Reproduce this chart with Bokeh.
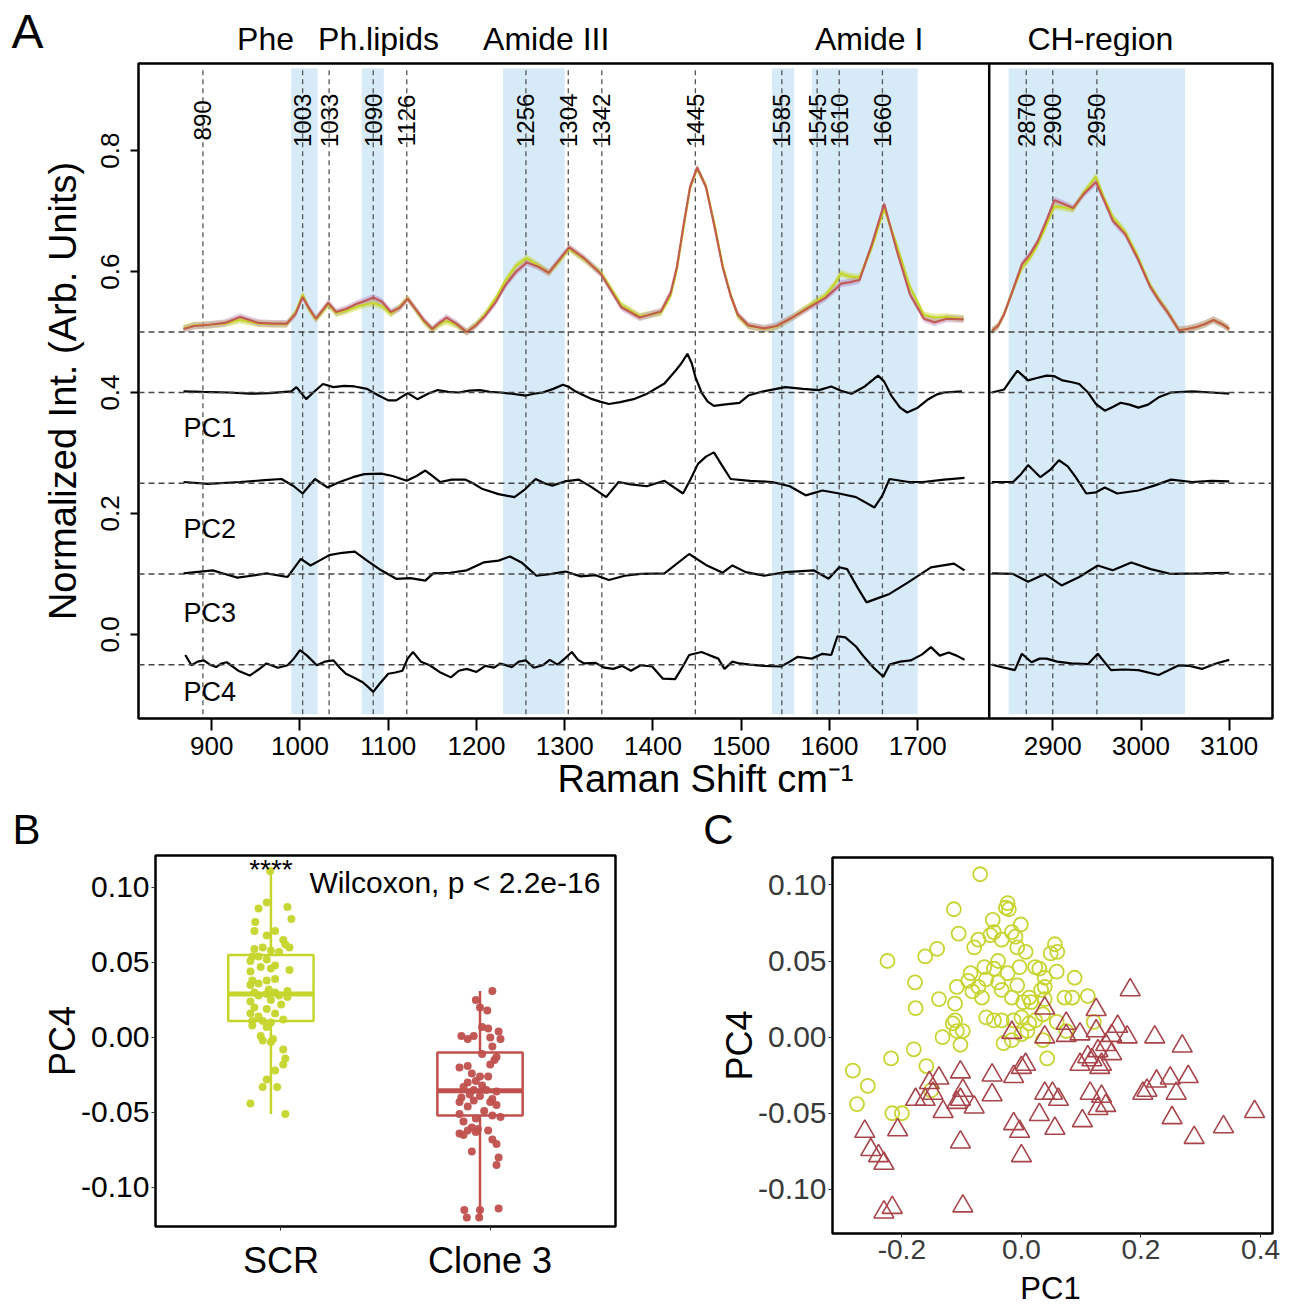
import numpy as np
from bokeh.plotting import figure
from bokeh.models import (ColumnDataSource, Span, Label, LabelSet, FixedTicker,
                          Range1d, PrintfTickFormatter)
from bokeh.layouts import column, row
from bokeh.embed import file_html
from bokeh.resources import INLINE
from bokeh.core.properties import value

FONT = "Liberation Sans"
SCR_COL = "#C5D52B"
CLONE_COL = "#C0504D"
TRI_COL = "#A8454A"
SHADE = "#D6EAF8"

# ---------------- Panel A data ----------------
fp_wn = [868, 880, 897, 915, 932, 953, 970, 985, 995, 1003, 1010, 1018, 1025, 1032, 1041, 1052, 1065, 1075,
         1083, 1093, 1103, 1113, 1122, 1131, 1140, 1150, 1158, 1166, 1177, 1189, 1200, 1210, 1222, 1233, 1245,
         1257, 1270, 1282, 1293, 1305, 1322, 1341, 1364, 1385, 1409, 1420, 1427, 1435, 1442, 1450, 1460, 1470,
         1479, 1488, 1496, 1508, 1526, 1540, 1559, 1582, 1595, 1606, 1613, 1622, 1634, 1648, 1662, 1676, 1691,
         1707, 1719, 1733, 1752]
clone_fp = [0.505, 0.510, 0.512, 0.515, 0.525, 0.515, 0.514, 0.514, 0.530, 0.558,
            0.540, 0.522, 0.535, 0.548, 0.533, 0.538, 0.547, 0.552, 0.557, 0.550,
            0.533, 0.540, 0.555, 0.538, 0.520, 0.505, 0.515, 0.524, 0.514, 0.500,
            0.512, 0.527, 0.550, 0.578, 0.600, 0.615, 0.608, 0.598, 0.618, 0.640,
            0.622, 0.596, 0.541, 0.524, 0.534, 0.565, 0.607, 0.680, 0.740, 0.772,
            0.740, 0.672, 0.607, 0.560, 0.529, 0.511, 0.506, 0.510, 0.525, 0.545,
            0.556, 0.570, 0.580, 0.582, 0.586, 0.645, 0.712, 0.636, 0.563, 0.522,
            0.516, 0.522, 0.521]
scr_fp = [0.506, 0.511, 0.512, 0.514, 0.520, 0.514, 0.513, 0.513, 0.532, 0.562,
          0.538, 0.521, 0.533, 0.546, 0.531, 0.535, 0.542, 0.546, 0.548, 0.543,
          0.530, 0.541, 0.556, 0.537, 0.518, 0.504, 0.513, 0.518, 0.512, 0.500,
          0.513, 0.530, 0.556, 0.585, 0.610, 0.622, 0.610, 0.598, 0.616, 0.638,
          0.620, 0.598, 0.545, 0.526, 0.532, 0.560, 0.603, 0.676, 0.738, 0.770,
          0.742, 0.676, 0.610, 0.562, 0.527, 0.510, 0.505, 0.509, 0.525, 0.548,
          0.560, 0.580, 0.597, 0.592, 0.590, 0.640, 0.704, 0.645, 0.575, 0.528,
          0.524, 0.525, 0.522]
ch_wn = [2831, 2838, 2845, 2855, 2865, 2874, 2883, 2893, 2902, 2912, 2923, 2935, 2949, 2958, 2968, 2982,
         2996, 3010, 3020, 3030, 3043, 3052, 3062, 3072, 3082, 3092, 3100]
clone_ch = [0.502, 0.510, 0.530, 0.570, 0.612, 0.628, 0.650, 0.685, 0.718, 0.712, 0.705, 0.728, 0.748, 0.718,
            0.684, 0.662, 0.622, 0.576, 0.553, 0.533, 0.503, 0.505, 0.508, 0.513, 0.520, 0.513, 0.505]
scr_ch = [0.502, 0.510, 0.530, 0.570, 0.606, 0.622, 0.645, 0.678, 0.708, 0.706, 0.703, 0.730, 0.757, 0.722,
          0.690, 0.666, 0.626, 0.578, 0.555, 0.534, 0.503, 0.505, 0.508, 0.513, 0.520, 0.513, 0.505]
spec_sd = 0.006

pc1_fp_wn = [868, 890, 919, 943, 965, 990, 996, 1007, 1015, 1026, 1038, 1050, 1062, 1076, 1088, 1100, 1109,
             1122, 1133, 1145, 1156, 1168, 1180, 1192, 1204, 1215, 1227, 1240, 1256, 1265, 1275, 1287, 1298,
             1305, 1312, 1322, 1331, 1340, 1350, 1363, 1378, 1392, 1413, 1425, 1432, 1439, 1444, 1448, 1455,
             1462, 1469, 1480, 1498, 1508, 1525, 1550, 1570, 1588, 1602, 1613, 1625, 1640, 1655, 1662, 1670,
             1680, 1688, 1700, 1712, 1722, 1730, 1750]
pc1_fp = [0.402, 0.401, 0.400, 0.398, 0.399, 0.402, 0.409, 0.389, 0.400, 0.414,
          0.409, 0.411, 0.410, 0.406, 0.396, 0.387, 0.387, 0.399, 0.389, 0.398,
          0.404, 0.401, 0.400, 0.403, 0.404, 0.401, 0.400, 0.398, 0.395, 0.398,
          0.400, 0.406, 0.413, 0.409, 0.402, 0.395, 0.389, 0.385, 0.381, 0.384,
          0.389, 0.397, 0.415, 0.435, 0.448, 0.464, 0.448, 0.426, 0.400, 0.385,
          0.378, 0.380, 0.383, 0.395, 0.402, 0.409, 0.406, 0.404, 0.410, 0.403,
          0.398, 0.410, 0.428, 0.418, 0.395, 0.375, 0.367, 0.375, 0.389, 0.397,
          0.400, 0.402]
pc1_ch_wn = [2831, 2845, 2852, 2860, 2866, 2872, 2882, 2893, 2902, 2911, 2922, 2930, 2940, 2949, 2959, 2968,
             2977, 2987, 2997, 3008, 3020, 3034, 3058, 3080, 3100]
pc1_ch = [0.400, 0.405, 0.420, 0.436, 0.428, 0.420, 0.424, 0.428, 0.427, 0.420, 0.417, 0.414, 0.400, 0.381,
          0.370, 0.376, 0.383, 0.380, 0.375, 0.380, 0.392, 0.400, 0.402, 0.400, 0.398]

pc2_fp_wn = [868, 896, 932, 960, 979, 993, 1003, 1010, 1017, 1024, 1031, 1045, 1060, 1073, 1092, 1105, 1121,
             1132, 1142, 1150, 1159, 1172, 1187, 1196, 1206, 1225, 1243, 1255, 1267, 1277, 1286, 1300, 1316,
             1330, 1347, 1361, 1375, 1393, 1413, 1434, 1442, 1451, 1460, 1469, 1478, 1488, 1510, 1535, 1555,
             1573, 1592, 1611, 1630, 1651, 1660, 1668, 1690, 1706, 1730, 1753]
pc2_fp = [0.252, 0.249, 0.252, 0.255, 0.257, 0.245, 0.233, 0.245, 0.257, 0.250,
          0.243, 0.252, 0.260, 0.265, 0.266, 0.262, 0.254, 0.262, 0.271, 0.262,
          0.252, 0.256, 0.256, 0.250, 0.241, 0.232, 0.227, 0.240, 0.257, 0.250,
          0.246, 0.253, 0.256, 0.244, 0.227, 0.252, 0.248, 0.245, 0.254, 0.233,
          0.255, 0.282, 0.294, 0.301, 0.280, 0.257, 0.254, 0.252, 0.245, 0.230,
          0.238, 0.233, 0.227, 0.210, 0.230, 0.257, 0.252, 0.252, 0.256, 0.259]
pc2_ch_wn = [2831, 2855, 2864, 2872, 2886, 2897, 2907, 2917, 2926, 2938, 2949, 2959, 2973, 2997, 3015, 3034,
             3058, 3080, 3100]
pc2_ch = [0.252, 0.252, 0.265, 0.280, 0.260, 0.272, 0.288, 0.278, 0.260, 0.233, 0.235, 0.243, 0.233, 0.238,
          0.246, 0.256, 0.252, 0.254, 0.253]

pc3_fp_wn = [868, 901, 915, 929, 945, 962, 986, 1001, 1012, 1022, 1033, 1048, 1062, 1076, 1092, 1109, 1125,
             1142, 1151, 1170, 1189, 1208, 1225, 1238, 1252, 1268, 1285, 1301, 1318, 1335, 1350, 1368, 1386,
             1413, 1441, 1460, 1479, 1490, 1505, 1526, 1550, 1582, 1599, 1611, 1620, 1632, 1642, 1655, 1668,
             1690, 1715, 1741, 1753]
pc3_fp = [0.101, 0.106, 0.100, 0.094, 0.097, 0.101, 0.095, 0.125, 0.114, 0.122,
          0.131, 0.135, 0.137, 0.122, 0.106, 0.092, 0.093, 0.089, 0.101, 0.102,
          0.106, 0.119, 0.122, 0.129, 0.118, 0.097, 0.100, 0.104, 0.096, 0.098,
          0.090, 0.097, 0.100, 0.101, 0.133, 0.115, 0.102, 0.114, 0.103, 0.097,
          0.103, 0.106, 0.092, 0.111, 0.108, 0.077, 0.053, 0.060, 0.067, 0.087,
          0.111, 0.117, 0.106]
pc3_ch_wn = [2831, 2855, 2872, 2891, 2910, 2930, 2951, 2968, 2989, 3011, 3034, 3070, 3100]
pc3_ch = [0.101, 0.100, 0.087, 0.100, 0.081, 0.095, 0.114, 0.106, 0.119, 0.108, 0.100, 0.101, 0.102]

pc4_fp_wn = [870, 877, 884, 891, 898, 905, 911, 917, 930, 943, 953, 962, 975, 986, 993, 1000, 1008, 1019,
             1028, 1038, 1045, 1052, 1062, 1071, 1078, 1083, 1090, 1100, 1108, 1116, 1122, 1128, 1137, 1147,
             1158, 1171, 1180, 1189, 1200, 1210, 1220, 1227, 1240, 1248, 1256, 1265, 1275, 1283, 1292, 1300,
             1308, 1315, 1322, 1335, 1345, 1355, 1365, 1375, 1386, 1399, 1411, 1425, 1433, 1441, 1455, 1465,
             1474, 1481, 1490, 1498, 1510, 1525, 1545, 1555, 1564, 1580, 1592, 1602, 1609, 1618, 1630, 1639,
             1650, 1661, 1668, 1680, 1692, 1705, 1715, 1725, 1735, 1744, 1753]
pc4_fp = [-0.034, -0.051, -0.045, -0.043, -0.050, -0.054, -0.048, -0.046, -0.060, -0.068,
          -0.058, -0.048, -0.055, -0.051, -0.040, -0.026, -0.035, -0.051, -0.045, -0.043,
          -0.055, -0.065, -0.072, -0.079, -0.088, -0.095, -0.082, -0.065, -0.063, -0.060,
          -0.040, -0.029, -0.045, -0.051, -0.062, -0.071, -0.060, -0.057, -0.062, -0.052,
          -0.055, -0.048, -0.054, -0.045, -0.043, -0.055, -0.051, -0.042, -0.050, -0.040,
          -0.029, -0.042, -0.048, -0.047, -0.055, -0.057, -0.052, -0.060, -0.051, -0.053,
          -0.073, -0.074, -0.055, -0.034, -0.029, -0.035, -0.040, -0.057, -0.045, -0.048,
          -0.050, -0.052, -0.053, -0.045, -0.037, -0.040, -0.032, -0.034, -0.003, -0.005,
          -0.020, -0.037, -0.055, -0.070, -0.050, -0.045, -0.043, -0.033, -0.021, -0.035,
          -0.030, -0.035, -0.042]
pc4_ch_wn = [2831, 2845, 2857, 2865, 2876, 2885, 2893, 2905, 2921, 2940, 2951, 2966, 2980, 2997, 3020, 3043,
             3055, 3069, 3085, 3100]
pc4_ch = [-0.050, -0.055, -0.059, -0.032, -0.046, -0.040, -0.040, -0.045, -0.048, -0.049, -0.032, -0.059,
          -0.058, -0.059, -0.067, -0.051, -0.052, -0.057, -0.048, -0.042]

baselines = [0.5, 0.4, 0.25, 0.1, -0.05]
pc_names = ["PC1", "PC2", "PC3", "PC4"]
pc_label_y = [0.342, 0.175, 0.035, -0.096]

peak_pos = [890, 1003, 1033, 1083, 1121, 1256, 1304, 1342, 1448, 1546, 1586, 1611, 1660, 2870, 2900, 2950]
peak_labels = ["890", "1003", "1033", "1090", "1126", "1256", "1304", "1342", "1445", "1585", "1545",
               "1610", "1660", "2870", "2900", "2950"]
band_lo = [990, 1070, 1230, 1535, 1580, 2850]
band_hi = [1020, 1095, 1300, 1560, 1700, 3050]
region_names = ["Phe", "Ph.lipids", "Amide III", "Amide I", "CH-region"]
region_centers = [961, 1089, 1279, 1645, 2954]
a_xticks = [900, 1000, 1100, 1200, 1300, 1400, 1500, 1600, 1700, 2900, 3000, 3100]
a_yticks = [0.0, 0.2, 0.4, 0.6, 0.8]

# axis break: fingerprint axis ends at FP_END, CH axis starts at CH_BEGIN
FP_END = 1781
CH_BEGIN = 2828
CH_SHIFT = CH_BEGIN - FP_END
XA0, XA1 = 817, 3149 - CH_SHIFT


def bx(v):
    return v if v < 2000 else v - CH_SHIFT


def bxl(vs):
    return [bx(v) for v in vs]


# ---------------- Panel B data ----------------
groups = ["SCR", "Clone 3"]
grp_colors = [SCR_COL, CLONE_COL]
q1 = [0.0109, -0.052]
med = [0.029, -0.0355]
q3 = [0.055, -0.010]
whisk_lo = [-0.051, -0.120]
whisk_hi = [0.111, 0.031]
scr_jitter = [-0.020, -0.059, 0.079, 0.098, -0.075, 0.020, -0.079, 0.059, -0.020, 0.069, 0.089, -0.039, -0.079,
              0.000, 0.039, -0.089, -0.059, -0.020, -0.098, 0.020, -0.049, 0.000, -0.098, 0.089, -0.089, -0.020,
              0.020, -0.059, -0.098, -0.010, 0.079, -0.079, 0.020, -0.020, -0.059, 0.039, 0.079, -0.098, 0.000,
              0.049, -0.079, -0.020, -0.098, 0.020, -0.059, 0.059, -0.089, -0.039, 0.000, -0.089, -0.020, -0.049,
              0.010, -0.039, 0.000, 0.059, 0.069, 0.059, 0.020, -0.020, 0.030, -0.039, -0.098, 0.069, -0.004]
scr_pc4 = [0.090, 0.086, 0.087, 0.079, 0.077, 0.071, 0.071, 0.065, 0.068, 0.062, 0.060, 0.060, 0.059, 0.058,
           0.057, 0.054, 0.054, 0.052, 0.051, 0.048, 0.047, 0.046, 0.044, 0.045, 0.038, 0.038, 0.039, 0.036,
           0.035, 0.032, 0.031, 0.030, 0.030, 0.029, 0.028, 0.028, 0.027, 0.024, 0.025, 0.022, 0.020, 0.019,
           0.016, 0.016, 0.014, 0.012, 0.011, 0.011, 0.010, 0.008, 0.007, 0.001, -0.001, -0.002, -0.003,
           -0.008, -0.014, -0.018, -0.022, -0.028, -0.033, -0.033, -0.044, -0.051, 0.111]
clone_jitter = [0.059, -0.020, 0.000, 0.035, 0.010, 0.039, -0.089, -0.059, -0.030, 0.049, 0.089, 0.098, 0.059,
                0.010, 0.079, 0.049, 0.069, -0.098, -0.059, -0.039, 0.000, 0.039, -0.020, -0.059, 0.010, -0.079,
                -0.030, 0.030, 0.079, -0.049, 0.000, -0.089, 0.059, -0.030, -0.098, 0.049, 0.079, -0.059, 0.020,
                -0.098, 0.059, 0.098, -0.020, -0.079, -0.039, -0.010, -0.059, -0.020, 0.039, -0.098, -0.079,
                0.059, 0.079, -0.039, 0.089, 0.079, -0.075, 0.000, 0.089, -0.063, -0.004]
clone_pc4 = [0.031, 0.025, 0.020, 0.018, 0.007, 0.006, 0.001, -0.001, 0.001, 0.000, 0.004, -0.001, -0.006,
             -0.011, -0.013, -0.018, -0.015, -0.020, -0.019, -0.024, -0.026, -0.026, -0.029, -0.030, -0.032,
             -0.033, -0.035, -0.035, -0.036, -0.038, -0.039, -0.040, -0.041, -0.042, -0.043, -0.043, -0.045,
             -0.046, -0.049, -0.051, -0.052, -0.053, -0.054, -0.056, -0.060, -0.061, -0.062, -0.063, -0.062,
             -0.064, -0.065, -0.068, -0.071, -0.076, -0.080, -0.085, -0.115, -0.115, -0.114, -0.120, -0.120]
stat_text = "Wilcoxon, p < 2.2e-16"
signif_text = "****"
bc_yticks = [-0.10, -0.05, 0.00, 0.05, 0.10]

# ---------------- Panel C data ----------------
c_scr_pc1 = [-0.069, -0.113, -0.023, -0.026, -0.021, -0.105, -0.048, -0.001, -0.016, -0.072,
             -0.079, -0.052, -0.046, -0.033, -0.010, -0.007, 0.007, 0.056, 0.049, 0.060,
             -0.224, -0.161, -0.141, -0.178, -0.177, -0.138, -0.108, -0.085, -0.089, -0.059,
             -0.046, -0.039, -0.062, -0.072, -0.082, -0.066, -0.039, -0.023, -0.003, 0.023,
             0.030, 0.039, 0.059, 0.089, -0.007, -0.033, -0.016, 0.013, 0.033, 0.039,
             0.072, 0.085, 0.111, -0.111, -0.111, -0.115, -0.098, -0.108, -0.132, -0.102,
             -0.059, -0.046, -0.033, -0.013, 0.000, 0.013, 0.000, 0.010, 0.023, 0.036,
             0.059, 0.036, 0.043, -0.016, -0.030, -0.180, -0.218, -0.159, -0.282, -0.257,
             -0.275, -0.216, -0.200, -0.151, 0.016, 0.075, 0.121, 0.003, 0.039]
c_scr_pc4 = [0.107, 0.084, 0.088, 0.085, 0.084, 0.068, 0.077, 0.074, 0.069, 0.064,
             0.059, 0.067, 0.069, 0.064, 0.066, 0.059, 0.056, 0.061, 0.055, 0.056,
             0.050, 0.053, 0.058, 0.036, 0.019, 0.025, 0.033, 0.042, 0.037, 0.038,
             0.045, 0.050, 0.046, 0.033, 0.030, 0.026, 0.036, 0.042, 0.046, 0.046,
             0.045, 0.039, 0.043, 0.039, 0.034, 0.031, 0.026, 0.026, 0.031, 0.033,
             0.026, 0.026, 0.027, 0.022, 0.011, 0.009, 0.004, 0.004, 0.000, -0.005,
             0.013, 0.011, 0.011, 0.011, 0.013, 0.009, 0.002, 0.004, 0.011, 0.015,
             0.010, -0.002, -0.014, -0.002, -0.004, -0.008, -0.014, -0.019, -0.022, -0.032,
             -0.044, -0.050, -0.050, -0.035, 0.023, 0.004, 0.010, 0.023, 0.025]
c_clone_pc1 = [0.182, 0.125, 0.161, 0.223, 0.269, 0.177, 0.151, 0.125, 0.098, 0.075,
               0.075, 0.039, 0.039, -0.016, 0.141, 0.128, 0.111, 0.098, 0.118, 0.134,
               0.151, 0.131, 0.007, 0.000, -0.013, -0.049, -0.102, -0.154, -0.138, -0.177,
               -0.161, -0.148, -0.098, -0.102, -0.108, -0.079, -0.131, -0.049, 0.039, 0.052,
               0.062, 0.030, 0.115, 0.134, 0.141, 0.128, 0.210, 0.203, 0.226, 0.249,
               0.279, 0.259, 0.252, 0.102, -0.013, -0.003, 0.056, 0.289, 0.338, 0.390,
               -0.262, -0.207, -0.252, -0.239, -0.230, -0.102, 0.000, -0.216, -0.230, -0.098]
c_clone_pc4 = [0.031, 0.018, 0.007, 0.000, -0.006, 0.000, 0.001, 0.004, 0.002, 0.009,
               0.001, 0.000, 0.019, 0.003, -0.005, -0.009, -0.013, -0.018, -0.015, -0.018,
               -0.011, -0.020, -0.018, -0.020, -0.026, -0.025, -0.023, -0.030, -0.027, -0.041,
               -0.041, -0.037, -0.035, -0.041, -0.043, -0.046, -0.049, -0.038, -0.037, -0.037,
               -0.041, -0.051, -0.037, -0.039, -0.045, -0.047, -0.035, -0.037, -0.029, -0.027,
               -0.026, -0.037, -0.053, -0.055, -0.057, -0.062, -0.060, -0.066, -0.059, -0.049,
               -0.062, -0.061, -0.074, -0.078, -0.083, -0.069, -0.078, -0.112, -0.115, -0.111]
c_xticks = [-0.2, 0.0, 0.2, 0.4]

# ---------------- layout geometry (pixels) ----------------
PAGE_W = 1290
HA_H = 56            # header above panel A (panel letter + region names)
A_BL, A_BR, A_BT, A_BB = 138, 18, 7, 85
A_H = A_BT + 655 + A_BB
HB_H = 854 - HA_H - A_H   # header above panels B and C (panel letters)
BC_H = 1305 - 854
B_W, B_BL, B_BR, B_BT, B_BB = 640, 155, 25, 1, 79
C_W, C_BL, C_BR, C_BT, C_BB = 650, 192, 18, 3, 38
C_H = C_BT + 376 + C_BB
FOOT_H = BC_H - C_H  # footer under panel C holding its x-axis title


def style_axes(p, tick_size, label_size, tick_color="black"):
    for ax in list(p.xaxis) + list(p.yaxis):
        ax.axis_line_color = None
        ax.minor_tick_line_color = None
        ax.major_tick_in = 0
        ax.major_label_text_font = FONT
        ax.major_label_text_font_size = tick_size
        ax.major_label_text_color = tick_color
        ax.axis_label_text_font = FONT
        ax.axis_label_text_font_size = label_size
        ax.axis_label_text_font_style = "normal"
        ax.axis_label_text_color = "black"
    p.grid.visible = False
    p.outline_line_color = "black"
    p.outline_line_width = 2.5
    p.background_fill_color = "white"
    p.border_fill_color = "white"
    p.frame_align = False


def lbl(p, x, y, text, size, align="center", baseline="middle", angle=0.0, color="black"):
    p.add_layout(Label(x=x, y=y, text=text, text_font=FONT, text_font_size=size,
                       text_align=align, text_baseline=baseline, angle=angle, text_color=color))


def blank_fig(w, h):
    f = figure(width=w, height=h, output_backend="svg", toolbar_location=None,
               x_range=Range1d(0, w), y_range=Range1d(h, 0),
               x_axis_location=None, y_axis_location=None, min_border=0)
    f.outline_line_color = None
    f.grid.visible = False
    f.background_fill_color = "white"
    f.border_fill_color = "white"
    f.frame_align = False
    return f


def htext(f, xs, ys, texts, size):
    f.text(x=xs, y=ys, text=texts, text_font=value(FONT), text_font_size=value(size),
           text_align="center", text_baseline="middle", text_color="black")


# ================= Header A =================
ppu = (PAGE_W - A_BL - A_BR) / (XA1 - XA0)


def a_px(v):
    return A_BL + (bx(v) - XA0) * ppu


ha = blank_fig(PAGE_W, HA_H)
htext(ha, [a_px(c) for c in region_centers], [38.5] * len(region_centers), region_names, "32px")
htext(ha, [27], [30.5], ["A"], "48px")

# ================= Panel A =================
pa = figure(width=PAGE_W, height=A_H, output_backend="svg", toolbar_location=None,
            x_range=Range1d(XA0, XA1), y_range=Range1d(-0.139, 0.944),
            min_border_left=A_BL, min_border_right=A_BR, min_border_top=A_BT, min_border_bottom=A_BB)
style_axes(pa, "26px", "38px")
pa.xaxis.ticker = FixedTicker(ticks=bxl(a_xticks))
pa.xaxis.major_label_overrides = {bx(t): str(t) for t in a_xticks}
pa.xaxis.major_tick_out = 12
pa.xaxis.major_tick_line_width = 2
pa.xaxis.major_label_standoff = 6
pa.xaxis.axis_label = "Raman Shift cm\u207b\u00b9"
pa.xaxis.axis_label_standoff = 0
pa.yaxis.ticker = FixedTicker(ticks=a_yticks)
pa.yaxis.formatter = PrintfTickFormatter(format="%.1f")
pa.yaxis.major_label_orientation = "vertical"
pa.yaxis.major_tick_out = 8
pa.yaxis.major_tick_line_width = 2
pa.yaxis.major_label_standoff = 11
pa.yaxis.axis_label = "Normalized Int. (Arb. Units)"
pa.yaxis.axis_label_standoff = 15

SH_BOT, SH_TOP = -0.132, 0.936
pa.quad(left=bxl(band_lo), right=bxl(band_hi), bottom=SH_BOT, top=SH_TOP,
        fill_color=SHADE, line_color=None)
pa.segment(x0=bxl(peak_pos), x1=bxl(peak_pos), y0=SH_BOT, y1=SH_TOP,
           line_color="#555555", line_width=1.3, line_dash="5 4")
for b in baselines:
    pa.add_layout(Span(location=b, dimension="width", line_color="#444444",
                       line_width=1.5, line_dash="6 4"))
pa.add_layout(Span(location=FP_END, dimension="height", line_color="black", line_width=2.5))

for wn, scr, cln in [(fp_wn, scr_fp, clone_fp), (ch_wn, scr_ch, clone_ch)]:
    xs = bxl(wn)
    scr_a = np.array(scr)
    cln_a = np.array(cln)
    pa.varea(x=xs, y1=scr_a - spec_sd, y2=scr_a + spec_sd, fill_color=SCR_COL, fill_alpha=0.45)
    pa.varea(x=xs, y1=cln_a - spec_sd, y2=cln_a + spec_sd, fill_color="#B784BE", fill_alpha=0.45)
    pa.line(xs, scr, line_color=SCR_COL, line_width=2.2)
    pa.line(xs, cln, line_color=CLONE_COL, line_width=2.2, line_alpha=0.9)

for wn, vals in [(pc1_fp_wn, pc1_fp), (pc1_ch_wn, pc1_ch), (pc2_fp_wn, pc2_fp), (pc2_ch_wn, pc2_ch),
                 (pc3_fp_wn, pc3_fp), (pc3_ch_wn, pc3_ch), (pc4_fp_wn, pc4_fp), (pc4_ch_wn, pc4_ch)]:
    pa.line(bxl(wn), vals, line_color="black", line_width=2.2)

peak_src = ColumnDataSource(dict(x=bxl(peak_pos), y=[0.85] * len(peak_pos), text=peak_labels))
pa.add_layout(LabelSet(x="x", y="y", text="text", source=peak_src, angle=np.pi / 2,
                       text_align="center", text_baseline="middle",
                       text_font=value(FONT), text_font_size=value("24px"), text_color="black"))
for name, yv in zip(pc_names, pc_label_y):
    lbl(pa, fp_wn[0], yv, name, "27px", align="left")

# ================= Header B/C =================
hb = blank_fig(PAGE_W, HB_H)
htext(hb, [26, 718], [HB_H / 2, HB_H / 2], ["B", "C"], "42px")

# ================= Panel B =================
DODGE = -0.048
BOX_HW = 0.204
pb = figure(width=B_W, height=BC_H, output_backend="svg", toolbar_location=None,
            x_range=Range1d(0.4, 2.6), y_range=Range1d(-0.126, 0.1213),
            min_border_left=B_BL, min_border_right=B_BR, min_border_top=B_BT, min_border_bottom=B_BB)
style_axes(pb, "30px", "36px")
pb.xaxis.ticker = FixedTicker(ticks=[1, 2])
pb.xaxis.major_label_overrides = {i + 1: g for i, g in enumerate(groups)}
pb.xaxis.major_label_text_font_size = "36px"
pb.xaxis.major_tick_out = 4
pb.xaxis.major_tick_line_color = "#333333"
pb.xaxis.major_label_standoff = 9
pb.yaxis.ticker = FixedTicker(ticks=bc_yticks)
pb.yaxis.formatter = PrintfTickFormatter(format="%.2f")
pb.yaxis.major_tick_out = 4
pb.yaxis.major_tick_line_color = "#333333"
pb.yaxis.major_label_standoff = 2
pb.yaxis.axis_label = "PC4"
pb.yaxis.axis_label_standoff = -5

centers = [i + 1 + DODGE for i in range(len(groups))]
for i, col in enumerate(grp_colors):
    cx = centers[i]
    pb.segment(x0=[cx, cx], x1=[cx, cx], y0=[q3[i], q1[i]], y1=[whisk_hi[i], whisk_lo[i]],
               line_color=col, line_width=2.5)
    pb.quad(left=cx - BOX_HW, right=cx + BOX_HW, bottom=q1[i], top=q3[i],
            fill_color="white", line_color=col, line_width=2.5)
    pb.segment(x0=[cx - BOX_HW], x1=[cx + BOX_HW], y0=[med[i]], y1=[med[i]],
               line_color=col, line_width=5)
for i, (jit, vals) in enumerate([(scr_jitter, scr_pc4), (clone_jitter, clone_pc4)]):
    pb.scatter([centers[i] + j for j in jit], vals, size=8, fill_color=grp_colors[i],
               line_color=None, fill_alpha=0.95)
lbl(pb, centers[0], 0.112, signif_text, "28px")
lbl(pb, 1.136, 0.103, stat_text, "30px", align="left")

# ================= Panel C =================
pc = figure(width=C_W, height=C_H, output_backend="svg", toolbar_location=None,
            x_range=Range1d(-0.316, 0.420), y_range=Range1d(-0.129, 0.118),
            min_border_left=C_BL, min_border_right=C_BR, min_border_top=C_BT, min_border_bottom=C_BB)
style_axes(pc, "30px", "36px", tick_color="#3a3a3a")
pc.xaxis.ticker = FixedTicker(ticks=c_xticks)
pc.xaxis.formatter = PrintfTickFormatter(format="%.1f")
pc.xaxis.major_label_text_font_size = "28px"
pc.xaxis.major_tick_out = 4
pc.xaxis.major_tick_line_color = "#333333"
pc.xaxis.major_label_standoff = 2
pc.yaxis.ticker = FixedTicker(ticks=bc_yticks)
pc.yaxis.formatter = PrintfTickFormatter(format="%.2f")
pc.yaxis.major_tick_out = 4
pc.yaxis.major_tick_line_color = "#333333"
pc.yaxis.major_label_standoff = 2
pc.yaxis.axis_label = "PC4"
pc.yaxis.axis_label_standoff = -5

pc.scatter(c_scr_pc1, c_scr_pc4, marker="circle", size=14, fill_color=None,
           line_color="#C8D432", line_width=1.8)
pc.scatter(c_clone_pc1, c_clone_pc4, marker="triangle", size=20, fill_color=None,
           line_color=TRI_COL, line_width=1.6)

# footer under panel C: x-axis title "PC1", centred where the reference has it
fc = blank_fig(C_W, FOOT_H)
htext(fc, [410], [FOOT_H / 2], ["PC1"], "31px")

layout = column(ha, pa, hb, row(pb, column(pc, fc)))
with open("out.html", "w") as f:
    f.write(file_html(layout, INLINE))
